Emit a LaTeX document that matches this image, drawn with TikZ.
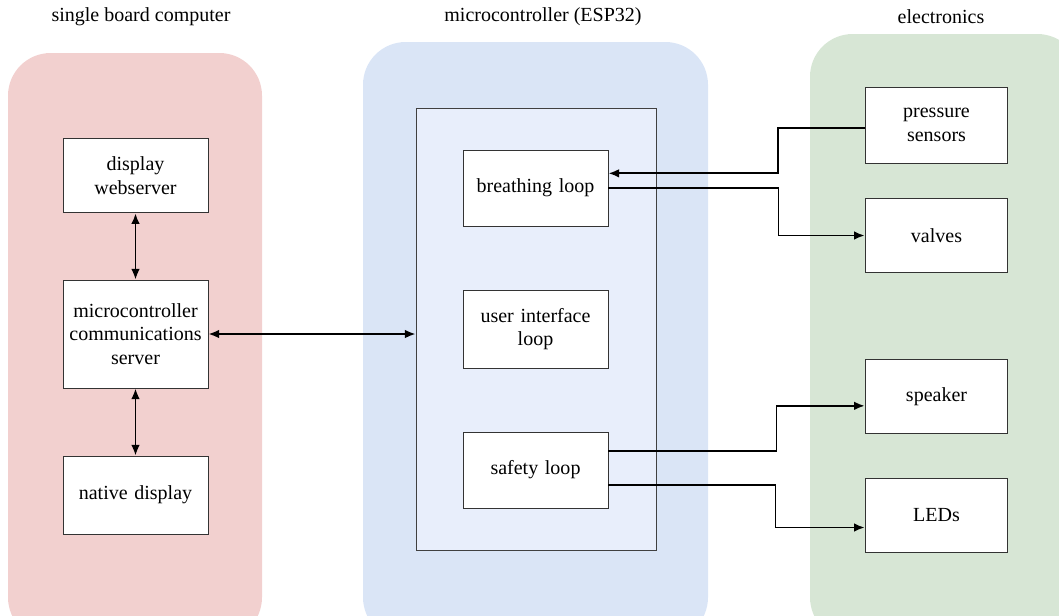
\documentclass[tikz,border=0pt]{standalone}
\usepackage{fontspec}
\setmainfont{Liberation Serif}
\usetikzlibrary{arrows.meta}

\definecolor{sbcred}{HTML}{F2D0CF}
\definecolor{espblue}{HTML}{DAE5F6}
\definecolor{esppanel}{HTML}{E8EEFB}
\definecolor{elecgreen}{HTML}{D7E6D5}

\begin{document}
\begin{tikzpicture}[x = 0.75pt, y = -0.75pt]
	\tikzstyle{regionStyle} = [rounded corners = 32pt, draw = none]
	\tikzstyle{titleStyle} = [font = \fontsize{15}{17}\selectfont]
	\tikzstyle{boxStyle} = [shape = rectangle, draw = black!80, line width = 0.7pt, fill = white, minimum width = 108.75pt, text width = 104pt, inner xsep = 1pt, align = center, font = \fontsize{15}{17.5}\selectfont]
	\tikzstyle{linkStyle} = [line width = 1.4pt, >={Latex[length = 8pt, width = 6.5pt]}]
	\useasboundingbox (0,0) rectangle (1059,615);
	% regions
	\fill[regionStyle, sbcred] (8,53) rectangle (262,640);
	\fill[regionStyle, espblue] (363,42) rectangle (708,640);
	\fill[regionStyle, elecgreen] (810,34) rectangle (1080,640);
	\node[titleStyle] (sbcT) at (141,17) {single board computer};
	\node[titleStyle] (espT) at (543,17) {microcontroller (ESP32)};
	\node[titleStyle] (elecT) at (941,17) {electronics};
	% microcontroller panel
	\node[draw = black!75, line width = 0.7pt, fill = esppanel, minimum width = 180pt, minimum height = 331.5pt, inner sep = 0pt] (panel) at (536,329) {};
	% single board computer
	\node[boxStyle, minimum height = 56pt] (web) at (135.5,175.5) {display\\webserver};
	\node[boxStyle, minimum height = 81pt] (comm) at (135.5,334) {microcontroller\\communications\\server};
	\node[boxStyle, minimum height = 58.5pt] (native) at (135.5,495) {native display};
	% loops
	\node[boxStyle, minimum height = 57pt] (breath) at (535.5,188) {breathing loop};
	\node[boxStyle, minimum height = 58.5pt] (ui) at (535.5,329) {user interface\\loop};
	\node[boxStyle, minimum height = 57pt] (safety) at (535.5,470) {safety loop};
	% electronics
	\node[boxStyle, minimum width = 107pt, text width = 103pt, minimum height = 57pt] (press) at (936.5,125) {pressure\\sensors};
	\node[boxStyle, minimum width = 107pt, text width = 103pt, minimum height = 56pt] (valves) at (936.5,235.5) {valves};
	\node[boxStyle, minimum width = 107pt, text width = 103pt, minimum height = 55pt] (speaker) at (936.5,396.5) {speaker};
	\node[boxStyle, minimum width = 107pt, text width = 103pt, minimum height = 56pt] (leds) at (936.5,515.5) {LEDs};
	% links
	\draw[linkStyle, <->] (web) -- (comm);
	\draw[linkStyle, <->] (comm) -- (native);
	\draw[linkStyle, <->] (comm.east) -- (comm.east -| panel.west);
	\draw[linkStyle, ->] ([yshift = -2pt]press.west) -- ++(-87,0) |- ([yshift = 11pt]breath.east);
	\draw[linkStyle, ->] (breath.east) -- ++(170,0) |- (valves.west);
	\draw[linkStyle, ->] ([yshift = 14pt]safety.east) -- ++(168,0) |- ([yshift = -7pt]speaker.west);
	\draw[linkStyle, ->] ([yshift = -11pt]safety.east) -- ++(167,0) |- ([yshift = -9pt]leds.west);
\end{tikzpicture}
\end{document}
